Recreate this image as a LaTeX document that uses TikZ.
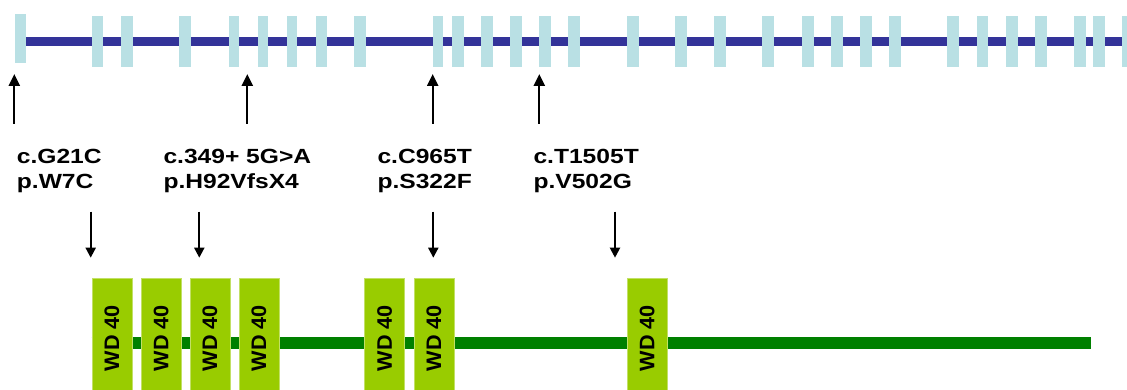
\documentclass[tikz,border=0pt]{standalone}
\usepackage{fontspec}
\usetikzlibrary{arrows.meta}
% Bold sans faces for the mutation labels and the domain boxes
\newfontfamily\lblfont[FakeStretch=1.2]{Liberation Sans Bold}
\newfontfamily\domfont[FakeStretch=1.03]{Liberation Sans Bold}
\definecolor{intronblue}{RGB}{51,51,153}
\definecolor{exonblue}{RGB}{185,224,228}
\definecolor{protgreen}{RGB}{0,128,0}
\definecolor{wdgreen}{RGB}{153,204,0}
\tikzset{
  exonbox/.style={fill=exonblue},
  mutlabel/.style={font=\lblfont\fontsize{20.5pt}{25pt}\selectfont, anchor=base west, inner sep=0pt},
  uparrow/.style={line width=2.2pt, -{Triangle[width=11pt,length=12pt]}},
  downarrow/.style={line width=2pt, -{Triangle[width=10pt,length=10pt]}},
  wdbox/.style={fill=wdgreen, draw=wdgreen!60!white, line width=0.6pt, rotate=90,
    minimum width=119.4pt, minimum height=40pt, inner sep=0pt,
    font=\domfont\fontsize{21pt}{24pt}\selectfont}
}
\begin{document}
\begin{tikzpicture}[x=1pt,y=-1pt]
\useasboundingbox (0,0) rectangle (1127,390);

% gene: intron backbone and exons
\coordinate (gs) at (26,41.5);
\coordinate (ge) at (1127,41.5);
\draw[intronblue, line width=9pt] (gs) -- (ge);
\fill[exonbox] (14.7,14) rectangle (26,63);
\foreach \a/\b in {91.7/103.3,120.7/132.7,179.3/191,228.7/239,257.7/268.3,287/297.3,
  316/326.7,354/366,433/443.3,451.7/463.7,480.7/492.7,510/522,539/551,568.3/580.3,
  626.7/638.7,674.7/686.7,714/726,762/774,801.7/813.7,830.7/842.7,860/871.7,889/901,
  947.3/959.3,976.7/988.3,1005.7/1017.7,1035/1046.7,1074.3/1086,1093/1105,1122/1134}
  \fill[exonbox] (\a,15.7) rectangle (\b,66.7);

% arrows pointing at the mutated exons
\foreach \n/\x in {1/14.3,2/247.3,3/432.7,4/539.3}{
  \coordinate (ua\n) at (\x,124);
  \coordinate (ub\n) at (\x,74);
  \draw[uparrow] (ua\n) -- (ub\n);
}

% mutation labels
\node[mutlabel] (c1) at (16.7,163.3) {c.G21C};
\node[mutlabel] (p1) at (16.7,188.3) {p.W7C};
\node[mutlabel] (c2) at (163.3,163.3) {c.349+ 5G>A};
\node[mutlabel] (p2) at (163.3,188.3) {p.H92VfsX4};
\node[mutlabel] (c3) at (377.3,163.3) {c.C965T};
\node[mutlabel] (p3) at (377.3,188.3) {p.S322F};
\node[mutlabel] (c4) at (533.3,163.3) {c.T1505T};
\node[mutlabel] (p4) at (533.3,188.3) {p.V502G};

% arrows pointing at the affected protein positions
\foreach \n/\x in {1/90.7,2/199.3,3/433.3,4/615}{
  \coordinate (da\n) at (\x,211.7);
  \coordinate (db\n) at (\x,257.7);
  \draw[downarrow] (da\n) -- (db\n);
}

% protein: backbone and WD40 repeats
\coordinate (ps) at (91.7,342.8);
\coordinate (pe) at (1090.7,342.8);
\draw[protgreen, line width=12pt] (ps) -- (pe);
\foreach \n/\x in {1/112,2/161.2,3/209.8,4/258.8,5/384.7,6/433.8,7/647.2}
  \node[wdbox] (wd\n) at (\x,338) {WD 40};
\end{tikzpicture}
\end{document}
